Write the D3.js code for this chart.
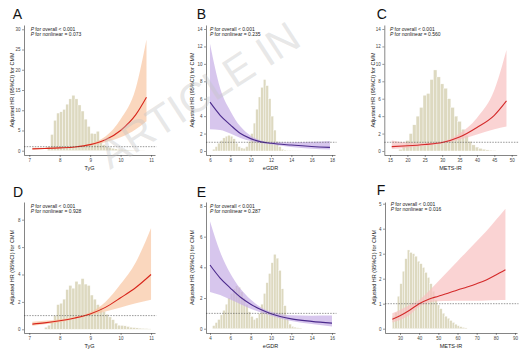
<!DOCTYPE html>
<html>
<head>
<meta charset="utf-8">
<script src="https://cdn.jsdelivr.net/npm/d3@7"></script>
<style>
  body { margin: 0; background: #fff; }
  text { font-family: "Liberation Sans", Arial, sans-serif; }
</style>
</head>
<body>
<script>
// spline estimates (HR, 95% CI)
const tygX1 = [7.1, 7.5, 8.0, 8.5, 9.0, 9.5, 10.0, 10.5, 10.85];
const tygFit1 = [0.45, 0.55, 0.7, 0.93, 1.5, 2.7, 5.0, 8.9, 13.2];
const tygLo1 = [0.28, 0.4, 0.58, 0.85, 1.3, 2.1, 3.3, 5.3, 7.3];
const tygHi1 = [0.72, 0.75, 0.84, 1.02, 1.75, 3.5, 7.8, 15.5, 27.5];

const egdrX1 = [6.0, 7.0, 8.0, 9.0, 10.0, 11.0, 12.0, 14.0, 16.0, 17.8];
const egdrFit1 = [5.6, 4.1, 3.0, 2.0, 1.42, 1.05, 0.88, 0.68, 0.52, 0.42];
const egdrLo1 = [2.5, 2.4, 2.0, 1.5, 1.15, 0.92, 0.76, 0.45, 0.27, 0.18];
const egdrHi1 = [12.3, 7.2, 4.6, 2.8, 1.75, 1.2, 1.02, 1.0, 1.05, 1.15];

const metsX1 = [15.5, 20, 25, 30, 35, 40, 45, 48.5];
const metsFit1 = [0.5, 0.6, 0.75, 0.97, 1.6, 2.7, 4.1, 5.75];
const metsLo1 = [0.22, 0.36, 0.6, 0.86, 1.3, 1.9, 2.5, 2.8];
const metsHi1 = [1.2, 0.98, 0.92, 1.1, 2.0, 3.8, 7.0, 11.6];

const tygX2 = [7.1, 7.5, 8.0, 8.5, 9.0, 9.5, 10.0, 10.5, 11.0];
const tygFit2 = [0.38, 0.47, 0.62, 0.83, 1.12, 1.6, 2.3, 3.05, 4.0];
const tygLo2 = [0.26, 0.36, 0.52, 0.75, 1.02, 1.3, 1.6, 1.9, 2.15];
const tygHi2 = [0.56, 0.62, 0.74, 0.92, 1.25, 2.0, 3.3, 4.9, 7.4];

const egdrX2 = [4, 5, 6, 7, 8, 9, 10, 11, 12, 14, 16];
const egdrFit2 = [4.15, 3.3, 2.65, 2.05, 1.6, 1.25, 0.98, 0.78, 0.64, 0.48, 0.36];
const egdrLo2 = [2.4, 2.2, 1.9, 1.6, 1.3, 1.05, 0.85, 0.65, 0.5, 0.3, 0.15];
const egdrHi2 = [7.0, 5.0, 3.6, 2.6, 1.9, 1.4, 1.1, 0.95, 0.88, 0.85, 0.86];

const metsX2 = [26, 30, 35, 40, 45, 50, 55, 60, 65, 70, 75, 80, 85];
const metsFit2 = [0.38, 0.52, 0.74, 1.0, 1.18, 1.3, 1.42, 1.55, 1.67, 1.8, 1.95, 2.15, 2.36];
const metsLo2 = [0.25, 0.35, 0.55, 0.88, 1.05, 1.1, 1.11, 1.12, 1.12, 1.12, 1.13, 1.14, 1.15];
const metsHi2 = [0.62, 0.75, 0.95, 1.15, 1.5, 1.9, 2.3, 2.7, 3.1, 3.5, 3.9, 4.35, 4.8];

// distribution histograms (bar heights in the panel's HR units)
const histA = [1.0, 4.0, 7.5, 9.3, 9.6, 10.2, 11.5, 12.8, 13.7, 12.8, 11.3, 9.8, 7.8, 6.0, 4.3, 4.2, 4.8, 2.3, 1.5, 1.0, 0.8, 0.6, 0.45, 0.35, 0.3, 0.22, 0.18, 0.12, 0.1, 0.08, 0.05, 0.04];
const histB = [0.2, 0.5, 0.9, 1.2, 1.5, 1.7, 1.8, 1.7, 1.4, 0.9, 0.5, 0.35, 0.3, 0.5, 1.1, 2.0, 3.2, 4.8, 6.2, 7.3, 8.2, 7.5, 6.0, 4.0, 2.4, 1.1, 0.5, 0.2, 0.1, 0.06, 0.05, 0.04, 0.03, 0.03, 0.02];
const histC = [0.2, 0.6, 1.2, 2.0, 3.0, 4.0, 5.0, 6.4, 6.6, 8.2, 9.3, 8.5, 7.7, 7.2, 6.0, 5.0, 4.0, 3.4, 2.5, 1.8, 1.1, 0.7, 0.45, 0.3, 0.2, 0.12, 0.08, 0.05];
const histD = [0.15, 0.3, 0.6, 1.0, 1.8, 1.9, 2.2, 2.9, 3.2, 3.0, 3.5, 3.3, 3.7, 3.3, 3.2, 2.5, 2.2, 1.8, 1.6, 1.3, 1.1, 0.9, 0.7, 0.45, 0.3, 0.28, 0.25, 0.2, 0.15, 0.12, 0.1, 0.08, 0.06, 0.05, 0.03];
const histE = [0.2, 0.4, 0.6, 0.9, 1.2, 1.6, 2.0, 2.3, 2.6, 2.8, 2.7, 2.4, 2.0, 1.6, 1.1, 0.8, 0.6, 0.7, 1.0, 1.6, 2.3, 3.0, 3.6, 4.3, 4.85, 4.6, 3.8, 2.6, 1.5, 0.7, 0.3, 0.15, 0.1, 0.06, 0.04];
const histF = [0.5, 0.65, 1.3, 1.8, 2.3, 2.8, 3.15, 3.05, 3.0, 2.9, 2.7, 2.6, 2.45, 2.25, 2.05, 1.8, 1.5, 1.15, 0.95, 0.8, 0.62, 0.5, 0.42, 0.33, 0.25, 0.18, 0.12, 0.08, 0.05, 0.03];

// axis ticks
const ticksTyG = [7, 8, 9, 10, 11];
const ticksEgdr1 = [6, 8, 10, 12, 14, 16, 18];
const ticksEgdr2 = [4, 6, 8, 10, 12, 14, 16];
const ticksMets1 = [15, 20, 25, 30, 35, 40, 45, 50];
const ticksMets2 = [30, 40, 50, 60, 70, 80, 90];
const yTicksA = [0, 5, 10, 15, 20, 25, 30];
const yTicksBC = [0, 2, 4, 6, 8, 10, 12, 14];
const yTicksDE = [0, 2, 4, 6, 8];
const yTicksF = [0, 1, 2, 3, 4, 5];

const pOverall = ["< 0.001", "< 0.001", "< 0.001", "< 0.001", "< 0.001", "< 0.001"];
const pNonlinear = ["= 0.073", "= 0.235", "= 0.560", "= 0.928", "= 0.287", "= 0.016"];

const orange = { band: "#f8c6a2", line: "#d8261c" };
const purple = { band: "#c6aee6", line: "#4b2a8c" };
const pink = { band: "#f8c0c0", line: "#d42a2a" };

const panels = [
  { id: "A", xl: "TyG", x: tygX1, fit: tygFit1, lo: tygLo1, hi: tygHi1, hist: histA, b0: 7.6, bw: 0.1,
    xt: ticksTyG, yt: yTicksA, col: orange,
    box: [24, 155, 25, 155], xd: [6.826, 11.13], yd: [-1.06, 31.06], lab: [12.7, 19.3], yl: 12.5, px: 30.7, py: 30.7 },
  { id: "B", xl: "eGDR", x: egdrX1, fit: egdrFit1, lo: egdrLo1, hi: egdrHi1, hist: histB, b0: 6.25, bw: 0.25,
    xt: ticksEgdr1, yt: yTicksBC, col: purple,
    box: [206, 335, 25, 155], xd: [5.607, 18.295], yd: [-0.46, 14.46], lab: [196.7, 19.2], yl: 192, px: 210, py: 30.7 },
  { id: "C", xl: "METS-IR", x: metsX1, fit: metsFit1, lo: metsLo1, hi: metsHi1, hist: histC, b0: 17.5, bw: 1,
    xt: ticksMets1, yt: yTicksBC, col: pink,
    box: [384.3, 516.7, 25, 155], xd: [13.36, 51.44], yd: [-0.46, 14.46], lab: [376.7, 19.2], yl: 373.5, px: 390, py: 30.9 },
  { id: "D", xl: "TyG", x: tygX2, fit: tygFit2, lo: tygLo2, hi: tygHi2, hist: histD, b0: 7.5, bw: 0.1,
    xt: ticksTyG, yt: yTicksDE, col: orange,
    box: [24, 155, 202, 333], xd: [6.826, 11.13], yd: [-0.27, 9.29], lab: [13, 197], yl: 12.5, px: 30.7, py: 208 },
  { id: "E", xl: "eGDR", x: egdrX2, fit: egdrFit2, lo: egdrLo2, hi: egdrHi2, hist: histE, b0: 4.25, bw: 0.25,
    xt: ticksEgdr2, yt: yTicksDE, col: purple,
    box: [206, 335, 202, 333], xd: [3.607, 16.295], yd: [-0.28, 8.26], lab: [196.7, 197], yl: 192, px: 210, py: 208 },
  { id: "F", xl: "METS-IR", x: metsX2, fit: metsFit2, lo: metsLo2, hi: metsHi2, hist: histF, b0: 26, bw: 1.3,
    xt: ticksMets2, yt: yTicksF, col: pink,
    box: [385, 517, 202, 333], xd: [22.17, 91.04], yd: [-0.172, 5.068], lab: [376.7, 195.2], yl: 374.5, px: 390.7, py: 205.5 }
];

const svg = d3.select("body").append("svg")
  .attr("width", 523)
  .attr("height", 354);

panels.forEach((p, i) => {
  const [l, r, t, b] = p.box;
  const x = d3.scaleLinear().domain(p.xd).range([l, r]);
  const y = d3.scaleLinear().domain(p.yd).range([b, t]);
  const g = svg.append("g");

  g.append("clipPath").attr("id", "clip" + p.id)
    .append("rect").attr("x", l).attr("y", t).attr("width", r - l).attr("height", b - t);

  // histogram
  g.append("g").selectAll("rect")
    .data(p.hist)
    .join("rect")
    .attr("x", (d, k) => x(p.b0 + k * p.bw))
    .attr("width", x(p.xd[0] + p.bw) - x(p.xd[0]))
    .attr("y", d => y(d))
    .attr("height", d => y(0) - y(d))
    .attr("fill", "#ddd9c0")
    .attr("stroke", "#fff")
    .attr("stroke-width", 0.35);

  const pts = p.x.map((v, k) => ({ x: v, fit: p.fit[k], lo: p.lo[k], hi: p.hi[k] }));

  const area = d3.area()
    .curve(d3.curveMonotoneX)
    .x(d => x(d.x)).y0(d => y(d.lo)).y1(d => y(d.hi));
  g.append("path").datum(pts)
    .attr("clip-path", `url(#clip${p.id})`)
    .attr("d", area)
    .attr("fill", p.col.band)
    .attr("fill-opacity", 0.7);

  const line = d3.line()
    .curve(d3.curveMonotoneX)
    .x(d => x(d.x)).y(d => y(d.fit));
  g.append("path").datum(pts)
    .attr("d", line)
    .attr("fill", "none")
    .attr("stroke", p.col.line)
    .attr("stroke-width", 1.1);

  // reference line HR = 1
  g.append("line")
    .attr("x1", l).attr("x2", r + 1.5)
    .attr("y1", y(1)).attr("y2", y(1))
    .attr("stroke", "#444")
    .attr("stroke-width", 0.55)
    .attr("stroke-dasharray", "1.5,1.2");

  // axes
  const fmt = d3.format("d");
  const xAxis = g.append("g")
    .attr("transform", `translate(0,${b})`)
    .call(d3.axisBottom(x).tickValues(p.xt).tickFormat(fmt).tickSize(2).tickPadding(1.5).tickSizeOuter(0));
  const yAxis = g.append("g")
    .attr("transform", `translate(${l},0)`)
    .call(d3.axisLeft(y).tickValues(p.yt).tickFormat(fmt).tickSize(2).tickPadding(1.5).tickSizeOuter(0));
  [xAxis, yAxis].forEach(a => {
    a.select(".domain").attr("stroke", "#333").attr("stroke-width", 0.6);
    a.selectAll(".tick line").attr("stroke", "#333").attr("stroke-width", 0.5);
    a.selectAll(".tick text").attr("fill", "#444").style("font-size", "4.5px");
  });

  g.append("text")
    .attr("x", (l + r) / 2).attr("y", b + 15)
    .attr("text-anchor", "middle")
    .style("font-size", "5.5px")
    .attr("fill", "#222")
    .text(p.xl);

  g.append("text")
    .attr("transform", `translate(${p.yl},${(t + b) / 2}) rotate(-90)`)
    .attr("text-anchor", "middle")
    .attr("dy", "0.35em")
    .style("font-size", "5.5px")
    .attr("fill", "#222")
    .text("Adjusted HR (95%CI) for CMM");

  const pt = g.append("g").style("font-size", "5px").attr("fill", "#222");
  [["for overall ", pOverall[i]], ["for nonlinear ", pNonlinear[i]]].forEach((row, k) => {
    const tx = pt.append("text").attr("x", p.px).attr("y", p.py + k * 5);
    tx.append("tspan").style("font-style", "italic").text("P ");
    tx.append("tspan").text(row[0] + row[1]);
  });

  g.append("text")
    .attr("x", p.lab[0]).attr("y", p.lab[1])
    .style("font-size", "14px")
    .attr("fill", "#111")
    .text(p.id);
});

// watermark
svg.append("text")
  .attr("transform", "translate(110,170) rotate(-33)")
  .style("font-size", "42px")
  .attr("fill", "#c4c4c4")
  .attr("fill-opacity", 0.4)
  .text("ARTICLE IN");
</script>
</body>
</html>
